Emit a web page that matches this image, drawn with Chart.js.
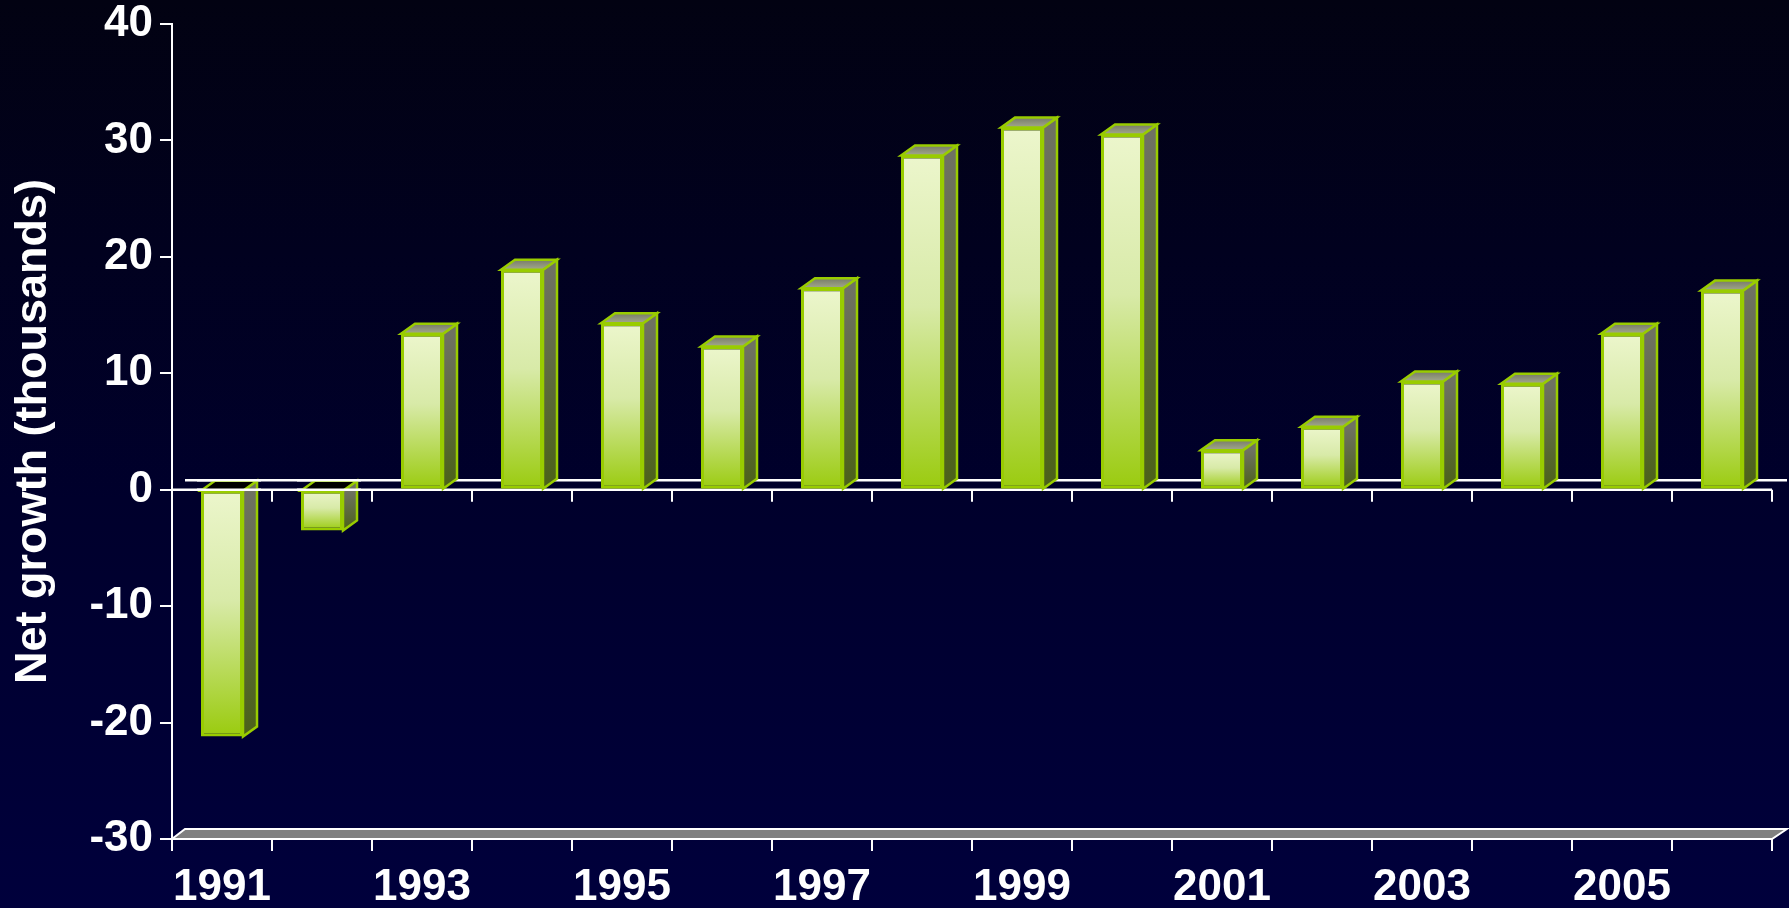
<!DOCTYPE html>
<html>
<head>
<meta charset="utf-8">
<title>Net growth</title>
<script src="https://cdn.jsdelivr.net/npm/chart.js@4.4.1/dist/chart.umd.min.js"></script>
<style>
  html, body { margin: 0; padding: 0; }
  body { background: linear-gradient(to bottom, #020212 0%, #00002c 55%, #00003c 100%); }
  #wrap { width: 1789px; height: 908px; position: relative; }
</style>
</head>
<body>
<div id="wrap"><canvas id="growthChart"></canvas></div>
<script>
const years = ['1991', '1992', '1993', '1994', '1995', '1996', '1997', '1998',
               '1999', '2000', '2001', '2002', '2003', '2004', '2005', '2006'];
const netGrowth = [-21.2, -3.5, 13.4, 18.9, 14.3, 12.3, 17.3, 28.7,
                   31.1, 30.5, 3.4, 5.4, 9.3, 9.1, 13.4, 17.1];
const yMin = -30;
const yMax = 40;
const yStep = 10;

const GREEN = '#99cc00';
const DX = 14;   // depth of the 3d boxes, to the right
const DY = -10;  // and upwards
const FONT = "'Liberation Sans', Arial, sans-serif";

function poly(ctx, pts) {
    ctx.beginPath();
    ctx.moveTo(pts[0][0], pts[0][1]);
    for (let i = 1; i < pts.length; i++) ctx.lineTo(pts[i][0], pts[i][1]);
    ctx.closePath();
}

// front face: pale cream at the top, fading to green at the bottom
function frontFill(context) {
    const chart = context.chart;
    const y = chart.scales.y;
    if (!y || !chart.chartArea || typeof context.raw !== 'number') return '#c8e090';
    const p0 = y.getPixelForValue(0);
    const p1 = y.getPixelForValue(context.raw);
    const g = chart.ctx.createLinearGradient(0, Math.min(p0, p1), 0, Math.max(p0, p1));
    g.addColorStop(0, '#ecf6cc');
    g.addColorStop(0.45, '#d8eaa8');
    g.addColorStop(1, '#9acb0e');
    return g;
}

// floor at the bottom and the zero plane with its tick marks
const planes = {
    id: 'planes',
    beforeDatasetsDraw(chart) {
        const {ctx, chartArea: a, scales: {x, y}} = chart;
        const y0 = y.getPixelForValue(0);
        ctx.save();
        // floor
        poly(ctx, [[a.left, a.bottom], [a.right, a.bottom], [a.right + DX + 1, a.bottom + DY], [a.left + 13, a.bottom + DY]]);
        ctx.fillStyle = '#808080';
        ctx.fill();
        ctx.strokeStyle = '#ffffff';
        ctx.lineWidth = 2;
        ctx.stroke();
        // zero plane
        ctx.lineWidth = 2.5;
        ctx.beginPath();
        ctx.moveTo(a.left, y0);
        ctx.lineTo(a.right, y0);
        ctx.moveTo(a.left + 13, y0 + DY + 0.5);
        ctx.lineTo(a.right + DX + 1, y0 + DY + 0.5);
        ctx.stroke();
        ctx.lineWidth = 2;
        ctx.beginPath();
        const step = x.width / years.length;
        for (let i = 1; i <= years.length; i++) {
            const px = Math.round(a.left + i * step);
            ctx.moveTo(px, y0);
            ctx.lineTo(px, y0 + 12);
        }
        ctx.stroke();
        ctx.restore();
    },
    afterDatasetsDraw(chart) {
        const {ctx, scales: {y}} = chart;
        const y0 = y.getPixelForValue(0);
        const bars = chart.getDatasetMeta(0).data;
        ctx.save();
        ctx.lineJoin = 'miter';
        bars.forEach((bar, i) => {
            const {x, y: yv, base, width} = bar.getProps(['x', 'y', 'base', 'width'], true);
            const l = x - width / 2, r = x + width / 2;
            const top = Math.min(yv, base), bot = Math.max(yv, base);
            const neg = netGrowth[i] < 0;

            // right side
            poly(ctx, [[r, top], [r + DX, top + DY], [r + DX, bot + DY], [r, bot]]);
            const gs = ctx.createLinearGradient(0, top, 0, bot);
            gs.addColorStop(0, '#6f7263');
            gs.addColorStop(1, '#4b6118');
            ctx.fillStyle = gs;
            ctx.fill();
            ctx.strokeStyle = GREEN;
            ctx.lineWidth = 2.5;
            ctx.stroke();

            // top
            poly(ctx, [[l, top], [l + DX, top + DY], [r + DX, top + DY], [r, top]]);
            if (neg) {
                ctx.fillStyle = '#000000';
            } else {
                const gt = ctx.createLinearGradient(0, top + DY, 0, top);
                gt.addColorStop(0, '#777b69');
                gt.addColorStop(1, '#a3a98c');
                ctx.fillStyle = gt;
            }
            ctx.fill();
            ctx.stroke();

            // zero lines run over the caps of the boxes hanging below zero
            if (neg) {
                ctx.strokeStyle = '#ffffff';
                ctx.beginPath();
                ctx.moveTo(l - 4, y0);
                ctx.lineTo(r + DX + 4, y0);
                ctx.moveTo(l - 4, y0 + DY + 0.5);
                ctx.lineTo(r + DX + 4, y0 + DY + 0.5);
                ctx.stroke();
            }
        });
        ctx.restore();
    }
};

new Chart(document.getElementById('growthChart'), {
    type: 'bar',
    data: {
        labels: years,
        datasets: [{
            data: netGrowth,
            backgroundColor: frontFill,
            borderColor: GREEN,
            borderWidth: 3,
            borderSkipped: false,
            categoryPercentage: 0.42,
            barPercentage: 1
        }]
    },
    options: {
        responsive: true,
        maintainAspectRatio: false,
        animation: false,
        layout: { padding: { top: 24, right: 17, bottom: 0, left: 0 } },
        plugins: {
            legend: { display: false },
            tooltip: { enabled: false }
        },
        scales: {
            x: {
                afterFit(scale) {
                    scale.height = 69;
                    scale.paddingLeft = 0;
                    scale.paddingRight = 0;
                },
                grid: {
                    offset: true,
                    drawOnChartArea: false,
                    drawTicks: true,
                    tickLength: 12,
                    color: '#ffffff',
                    lineWidth: 2
                },
                border: { display: true, color: '#ffffff', width: 2 },
                ticks: {
                    autoSkip: false,
                    maxRotation: 0,
                    padding: 15,
                    color: '#ffffff',
                    font: { family: FONT, size: 44, weight: 'bold', lineHeight: 1 },
                    callback: (v, i) => (i % 2 === 0 ? years[i] : '')
                }
            },
            y: {
                min: yMin,
                max: yMax,
                afterFit(scale) {
                    scale.width = 172;
                    scale.paddingTop = 0;
                    scale.paddingBottom = 0;
                },
                grid: {
                    drawOnChartArea: false,
                    tickLength: 12,
                    color: '#ffffff',
                    lineWidth: 2
                },
                border: { display: true, color: '#ffffff', width: 2 },
                ticks: {
                    stepSize: yStep,
                    padding: 7,
                    color: '#ffffff',
                    font: { family: FONT, size: 44, weight: 'bold', lineHeight: 1 }
                },
                title: {
                    display: true,
                    text: 'Net growth (thousands)',
                    color: '#ffffff',
                    padding: { top: 7, bottom: 0 },
                    font: { family: FONT, size: 45, weight: 'bold', lineHeight: 1.2 }
                }
            }
        }
    },
    plugins: [planes]
});
</script>
</body>
</html>
